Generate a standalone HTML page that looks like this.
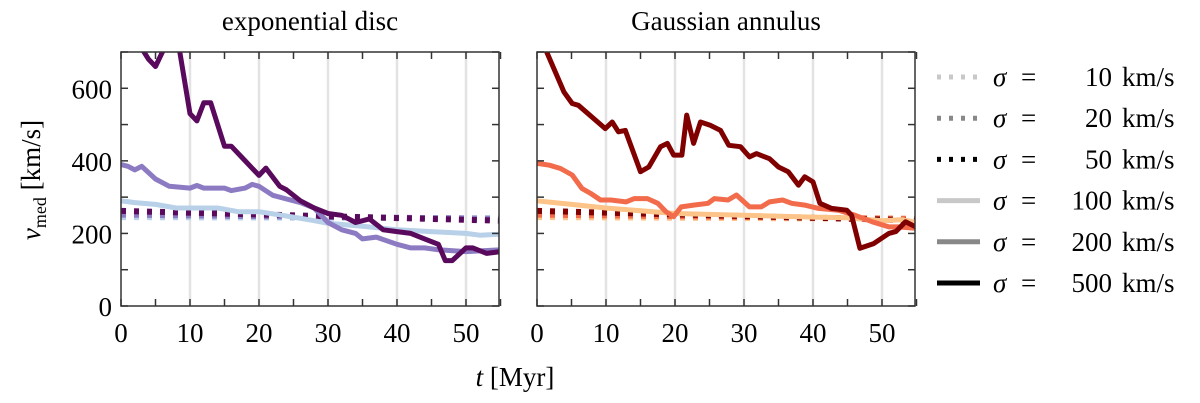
<!DOCTYPE html>
<html><head><meta charset="utf-8"><style>
body{margin:0;background:#fff;}
svg{display:block;font-family:"Liberation Serif",serif;}
</style></head><body>
<svg id="chart" width="1200" height="403">
</svg>
<script>
const tA=[0,2,4,5,6,8,10,11,12,13,15,16,18,20,21,23,24,26,28,30,32,34,36,38,40,42,44,46,47,48,50,51,53,55];
const vDisc500=[800,740,680,660,700,760,530,510,560,560,440,440,400,360,380,330,320,290,270,255,250,230,240,210,205,200,185,170,125,125,160,160,145,150];
const tB=[0,1,2,3,5,7,10,11,12,15,16,18,19,20,22,24,26,28,30,32,34,35,37,40,42,44,46,50,55];
const vDisc200=[390,385,375,385,350,330,325,332,325,325,318,325,335,330,305,295,285,270,230,210,200,185,190,170,160,160,155,150,155];
const tC=[0,2,5,8,14,17,20,25,28,30,35,40,45,50,52,55];
const vDisc100=[290,285,280,270,270,260,260,245,235,228,220,210,205,200,195,198];
const tD=[0,1.4,3.9,5.1,6,9.9,10.9,11.8,12.8,15,16.2,17.9,18.9,19.8,21,21.7,22.7,23.7,25.1,26.6,27.8,29.5,30.8,31.8,33.7,35,36.4,37.9,38.8,40,41,42.7,44.9,45.6,46.8,48.8,51,52,53.4,54.9];
const vAnn500=[780,700,590,558,553,489,507,480,484,370,383,439,448,416,416,526,448,507,498,484,443,439,411,420,406,383,370,333,356,342,283,269,264,250,159,172,200,205,232,218];
const tE=[0,1.8,3.4,5.1,6.5,7.8,9.2,10.7,12.9,14.1,16,17.5,18.7,19.8,20.9,22.7,24.8,25.7,27.7,28.9,30.8,32.5,33.7,35.6,36.9,38.8,40.8,43.7,46.1,48.6,51,52.4,54.9];
const vAnn200=[393,388,379,361,324,310,292,292,287,296,296,283,260,246,273,278,283,296,292,306,273,273,287,292,283,278,269,264,250,232,218,218,214];
const tF=[0,5,10,20,30,40,45,50,53,55];
const vAnn100=[290,280,270,255,250,245,243,235,238,230];
const tDot=[0,55];
const vDisc50=[262,235];const vDisc20=[252,240];const vDisc10=[245,242];
const vAnn50=[262,236];const vAnn20=[252,240];const vAnn10=[245,240];
const xTicks=[0,10,20,30,40,50];
const yTicks=[0,200,400,600];
const legendVals=["10","20","50","100","200","500"];

const NS="http://www.w3.org/2000/svg";
const svg=document.getElementById('chart');
function mk(tag,attrs,parent){const e=document.createElementNS(NS,tag);for(const k in attrs)e.setAttribute(k,attrs[k]);(parent||svg).appendChild(e);return e;}
const Y0=306,YTOP=52;
const ys=v=>Y0-(v/700)*(Y0-YTOP);
function panel(x0,name,title,series,showY){
  const xs=t=>x0+t*6.9;
  const x1=x0+378;
  const g=mk('g',{});
  
  
  const cp=mk('clipPath',{id:'cp'+name},g);
  mk('rect',{x:x0,y:YTOP,width:378,height:Y0-YTOP},cp);
  for(const t of xTicks){ if(t===0)continue;
    const l=mk('line',{x1:xs(t),x2:xs(t),y1:YTOP,y2:Y0,stroke:'#e3e3e3','stroke-width':2.5},g);
    
    
  }
  const sg=mk('g',{'clip-path':'url(#cp'+name+')'},g);
  for(const s of series){
    const d=s.t.map((t,i)=>(i?'L':'M')+xs(t).toFixed(1)+','+ys(s.v[i]).toFixed(1)).join('');
    const p=mk('path',{d:d,fill:'none',stroke:s.c,'stroke-width':s.w,'stroke-linejoin':'round','stroke-dasharray':s.dash||'none'},sg);
    
    
  }
  for(let t=0;t<=55;t+=5){
    mk('line',{x1:xs(t),x2:xs(t),y1:Y0,y2:Y0-7,stroke:'#333','stroke-width':1.5},g);
    mk('line',{x1:xs(t),x2:xs(t),y1:YTOP,y2:YTOP+7,stroke:'#333','stroke-width':1.5},g);
  }
  for(let v=0;v<=700;v+=100){
    mk('line',{x1:x0,x2:x0+7,y1:ys(v),y2:ys(v),stroke:'#333','stroke-width':1.5},g);
    mk('line',{x1:x1,x2:x1-7,y1:ys(v),y2:ys(v),stroke:'#333','stroke-width':1.5},g);
  }
  const fr=mk('rect',{x:x0,y:YTOP,width:378,height:Y0-YTOP,fill:'none',stroke:'#333','stroke-width':1.5},g);
  
  
  for(const t of xTicks){
    const tx=mk('text',{x:xs(t),y:342,'font-size':27,'text-anchor':'middle'},g);tx.textContent=t;
    
    
  }
  if(showY)for(const v of yTicks){
    const tx=mk('text',{x:x0-9,y:ys(v)+10,'font-size':27,'text-anchor':'end'},g);tx.textContent=v;
    
    
  }
  const tt=mk('text',{x:x0+189,y:30,'font-size':27,'text-anchor':'middle'},g);tt.textContent=title;
  
  
}
panel(121,'exponential-disc-panel','exponential disc',[
 {t:tDot,v:vDisc10,c:'#b8d0e8',w:6,dash:'5 8',n:'disc-sigma-10'},
 {t:tDot,v:vDisc20,c:'#8c7bc2',w:6,dash:'5 8',n:'disc-sigma-20'},
 {t:tDot,v:vDisc50,c:'#5a0a5c',w:6,dash:'5 8',n:'disc-sigma-50'},
 {t:tC,v:vDisc100,c:'#b8d0e8',w:5,n:'disc-sigma-100'},
 {t:tB,v:vDisc200,c:'#8c7bc2',w:5,n:'disc-sigma-200'},
 {t:tA,v:vDisc500,c:'#5a0a5c',w:5,n:'disc-sigma-500'}],true);
panel(537,'gaussian-annulus-panel','Gaussian annulus',[
 {t:tDot,v:vAnn10,c:'#fdc48a',w:6,dash:'5 8',n:'annulus-sigma-10'},
 {t:tDot,v:vAnn20,c:'#f26b4b',w:6,dash:'5 8',n:'annulus-sigma-20'},
 {t:tDot,v:vAnn50,c:'#800000',w:6,dash:'5 8',n:'annulus-sigma-50'},
 {t:tF,v:vAnn100,c:'#fdc48a',w:5,n:'annulus-sigma-100'},
 {t:tE,v:vAnn200,c:'#f26b4b',w:5,n:'annulus-sigma-200'},
 {t:tD,v:vAnn500,c:'#800000',w:5,n:'annulus-sigma-500'}],false);

const yl=mk('text',{transform:'translate(40,180) rotate(-90)','font-size':27,'text-anchor':'middle'});
yl.innerHTML='<tspan font-style="italic">v</tspan><tspan font-size="18" dy="6">med</tspan><tspan dy="-6">  [km/s]</tspan>';


const xl=mk('text',{x:515,y:386,'font-size':27,'text-anchor':'middle'});
xl.innerHTML='<tspan font-style="italic">t</tspan>  [Myr]';



const lcols=['#c8c8c8','#888','#000','#c8c8c8','#888','#000'];
legendVals.forEach((v,i)=>{
  const y=77+i*41.2;
  const g=mk('g',{});
  
  
  mk('line',{x1:937,x2:980,y1:y,y2:y,stroke:lcols[i],'stroke-width':5,'stroke-dasharray':i<3?'4 8':'none'},g);
  const s=mk('text',{x:993,y:y+9,'font-size':27,'font-style':'italic'},g);s.textContent='σ';
  const e=mk('text',{x:1021,y:y+9,'font-size':27},g);e.textContent='=';
  const n=mk('text',{x:1112,y:y+9,'font-size':27,'text-anchor':'end'},g);n.textContent=v;
  const u=mk('text',{x:1122,y:y+9,'font-size':27},g);u.textContent='km/s';
});
</script>
</body></html>
